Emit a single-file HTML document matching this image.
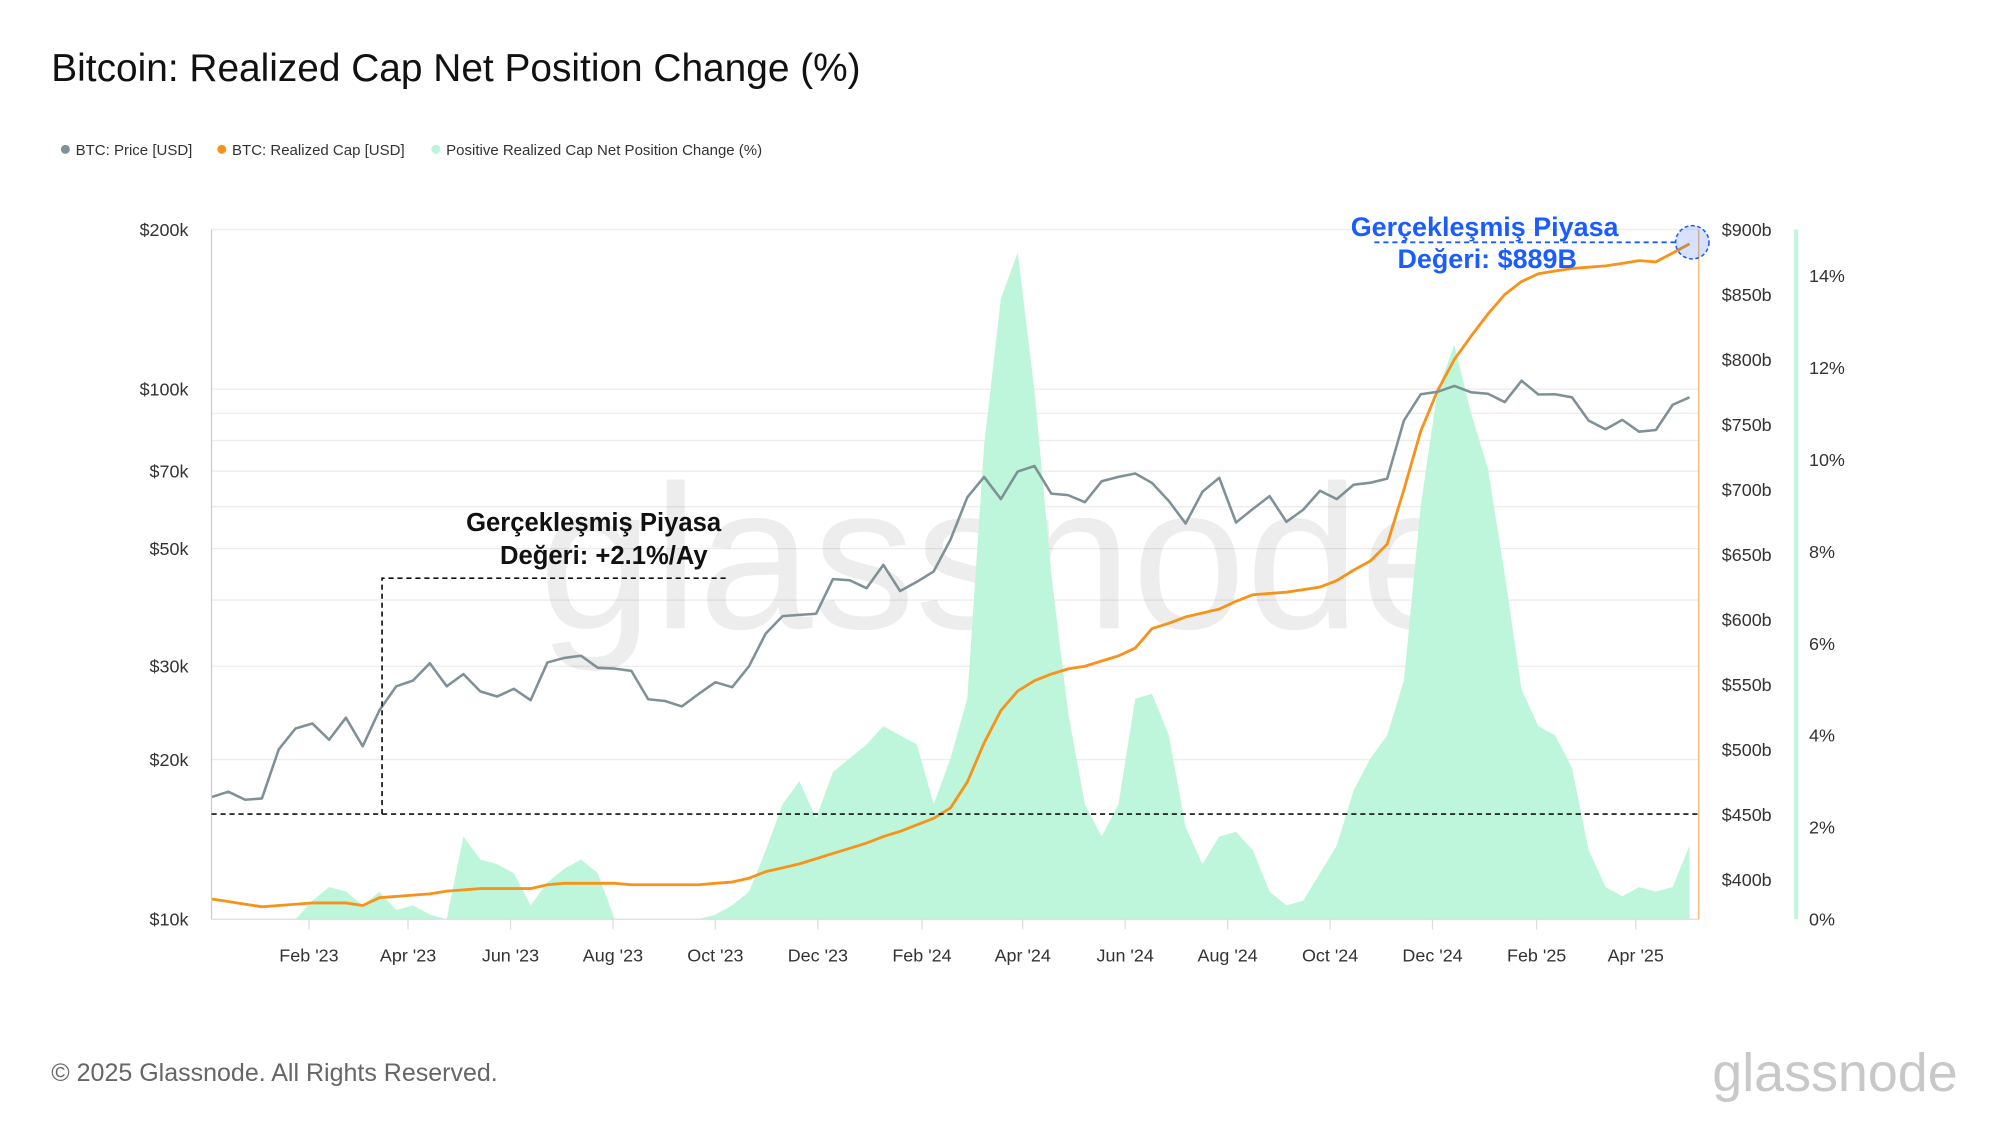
<!DOCTYPE html>
<html><head><meta charset="utf-8"><style>
html,body{margin:0;padding:0;background:#fff;}
svg{display:block;font-family:"Liberation Sans",sans-serif;}
</style></head><body>
<svg id="chart" width="2000" height="1125" viewBox="0 0 1560 877.5" xmlns="http://www.w3.org/2000/svg">
<text x="40" y="63" font-size="30.3" fill="#111">Bitcoin: Realized Cap Net Position Change (%)</text>
<g font-size="11.7" fill="#333">
<g><circle cx="51" cy="116.5" r="3.5" fill="#7f9196"/><text x="59" y="121">BTC: Price [USD]</text></g>
<g><circle cx="173" cy="116.5" r="3.5" fill="#f7931a"/><text x="181" y="121">BTC: Realized Cap [USD]</text></g>
<g><circle cx="340" cy="116.5" r="3.5" fill="#b9f5d8"/><text x="348" y="121">Positive Realized Cap Net Position Change (%)</text></g>
</g>
<g id="grid"></g>
<text x="785" y="490" font-size="160" fill="#000" fill-opacity="0.07" text-anchor="middle">glassnode</text>
<g id="marks"></g>
<g id="axes"></g>
<g>
<path d="M298,635 V451 H566" fill="none" stroke="#111" stroke-width="1.3" stroke-dasharray="4,3"/>
<line x1="165" y1="635" x2="1325" y2="635" stroke="#111" stroke-width="1.3" stroke-dasharray="4,3"/>
<text x="463" y="414" font-size="20" font-weight="bold" text-anchor="middle" fill="#111">Gerçekleşmiş Piyasa</text>
<text x="552" y="440" font-size="20" font-weight="bold" text-anchor="end" fill="#111">Değeri: +2.1%/Ay</text>
</g>
<g>
<line x1="1072" y1="189" x2="1308" y2="189" stroke="#1a5cff" stroke-width="1.5" stroke-dasharray="4,3"/>
<circle cx="1320" cy="189" r="13" fill="#1a5cff" fill-opacity="0.18" stroke="#1a5cff" stroke-width="1.2" stroke-dasharray="3,2"/>
<text x="1158" y="184" font-size="21" font-weight="bold" text-anchor="middle" fill="#1a5cff">Gerçekleşmiş Piyasa</text>
<text x="1160" y="209" font-size="21" font-weight="bold" text-anchor="middle" fill="#1a5cff">Değeri: $889B</text>
</g>
<text x="40" y="843" font-size="19.5" fill="#666">© 2025 Glassnode. All Rights Reserved.</text>
<text x="1527" y="851" font-size="42" fill="#c8c8c8" text-anchor="end">glassnode</text>
</svg>
<script>
const dayStep = 10;
const priceK = [17,17.4,16.8,16.9,20.9,22.9,23.4,21.8,24,21.2,24.8,27.5,28.2,30.4,27.5,29,26.9,26.3,27.2,25.9,30.5,31.1,31.4,29.8,29.7,29.4,26,25.8,25.2,26.6,28,27.4,30,34.6,37.3,37.5,37.7,43.8,43.6,42.1,46.6,41.6,43.3,45.3,52,62.5,68.3,62,69.9,71.6,63.5,63.1,61.2,67,68.3,69.3,66.5,61.5,55.8,64,68,56,59.4,62.8,56.2,59.2,64.3,62,66,66.6,67.8,87.3,97.8,98.8,101.4,98.6,98,94.5,103.7,97.7,97.8,96.5,87.2,84,87.5,83.1,83.7,93.4,96.5];
const realizedCapB = [385,383,381,379,380,381,382,382,382,380,386,387,388,389,391,392,393,393,393,393,396,397,397,397,397,396,396,396,396,396,397,398,401,406,409,412,416,420,424,428,433,437,442,447,455,475,505,530,545,553,558,562,564,568,572,578,593,597,602,605,608,614,619,620,621,623,625,630,638,645,658,700,745,776,800,818,835,850,860,866,868,870,871,872,874,876,875,882,889];
const netPosPct = [0,0,0,0,0,0,0.4,0.7,0.6,0.3,0.6,0.2,0.3,0.1,0,1.8,1.3,1.2,1.0,0.3,0.8,1.1,1.3,1.0,0,0,0,0,0,0,0.1,0.3,0.6,1.5,2.5,3.0,2.2,3.2,3.5,3.8,4.2,4.0,3.8,2.5,3.5,4.8,10.3,13.5,14.5,11.5,7.5,4.5,2.5,1.8,2.5,4.8,4.9,4.0,2.0,1.2,1.8,1.9,1.5,0.6,0.3,0.4,1.0,1.6,2.8,3.5,4.0,5.2,9.0,11.5,12.5,11.0,9.8,7.5,5.0,4.2,4.0,3.3,1.5,0.7,0.5,0.7,0.6,0.7,1.6];
const leftTicks = ["$200k","$100k","$70k","$50k","$30k","$20k","$10k"];
const leftTickVals = [200,100,70,50,30,20,10];
const rightTickVals = [900,850,800,750,700,650,600,550,500,450,400];
const pctTickVals = [0,2,4,6,8,10,12,14];
const monthLabels = ["Feb '23","Apr '23","Jun '23","Aug '23","Oct '23","Dec '23","Feb '24","Apr '24","Jun '24","Aug '24","Oct '24","Dec '24","Feb '25","Apr '25"];
const monthDays = [58,117,178,239,300,361,423,483,544,605,666,727,789,848];

const X0=165,X1=1325,Y0=179,Y1=717;
const NS="http://www.w3.org/2000/svg";
function xDay(d){return X0+d*1.31;}
function yPrice(v){return Y0+(Y1-Y0)*(Math.log10(200)-Math.log10(v))/Math.log10(20);}
function yCap(v){return 686-(v-400)*(50.7/50);}
function yPct(v){return Y1-v*35.86;}
function mk(tag,attrs,parent){const e=document.createElementNS(NS,tag);for(const k in attrs)e.setAttribute(k,attrs[k]);parent.appendChild(e);return e;}
const grid=document.getElementById('grid'),marks=document.getElementById('marks'),axes=document.getElementById('axes');
[200,100,90,80,70,60,50,40,30,20].forEach(v=>{
  const l=mk('line',{x1:X0,x2:X1,y1:yPrice(v),y2:yPrice(v),stroke:'#ececec','stroke-width':1},grid);
  
  
});
let d='M'+xDay(0)+','+Y1;
netPosPct.forEach((v,i)=>{d+=' L'+xDay(i*dayStep).toFixed(1)+','+yPct(v).toFixed(1);});
d+=' L'+xDay((netPosPct.length-1)*dayStep).toFixed(1)+','+Y1+' Z';
const area=mk('path',{d:d,fill:'#bdf6da'},marks);


const capPts=realizedCapB.map((v,i)=>xDay(i*dayStep).toFixed(1)+','+yCap(v).toFixed(1)).join(' ');
const cap=mk('polyline',{points:capPts,fill:'none',stroke:'#f7931a','stroke-width':2.2,'stroke-linejoin':'round'},marks);


const prPts=priceK.map((v,i)=>xDay(i*dayStep).toFixed(1)+','+yPrice(v).toFixed(1)).join(' ');
const pr=mk('polyline',{points:prPts,fill:'none',stroke:'#7f9196','stroke-width':2,'stroke-linejoin':'round'},marks);


const la=mk('line',{x1:X0,x2:X0,y1:Y0,y2:Y1,stroke:'#ccc','stroke-width':1},axes);


const ba=mk('line',{x1:X0,x2:X1,y1:Y1,y2:Y1,stroke:'#ddd','stroke-width':1},axes);


const oa=mk('line',{x1:X1,x2:X1,y1:Y0,y2:Y1,stroke:'#f7b56a','stroke-width':1},axes);


const ga=mk('line',{x1:1401,x2:1401,y1:Y0,y2:Y1,stroke:'#bdf6da','stroke-width':3},axes);


leftTicks.forEach((t,i)=>{
  const e=mk('text',{x:147,y:yPrice(leftTickVals[i])+5,'font-size':14,'text-anchor':'end',fill:'#333'},axes);e.textContent=t;
  
  
});
rightTickVals.forEach(v=>{
  const e=mk('text',{x:1343,y:yCap(v)+5,'font-size':14,fill:'#333'},axes);e.textContent='$'+v+'b';
  
  
});
pctTickVals.forEach(v=>{
  const e=mk('text',{x:1411,y:yPct(v)+5,'font-size':14,fill:'#333'},axes);e.textContent=v+'%';
  
  
});
monthLabels.forEach((t,i)=>{
  const x=xDay(monthDays[i]);
  const tk=mk('line',{x1:x,x2:x,y1:Y1,y2:Y1+8,stroke:'#ddd','stroke-width':1},axes);
  
  
  const e=mk('text',{x:x,y:750,'font-size':14,'text-anchor':'middle',fill:'#333'},axes);e.textContent=t;
  
  
});
</script>
</body></html>
